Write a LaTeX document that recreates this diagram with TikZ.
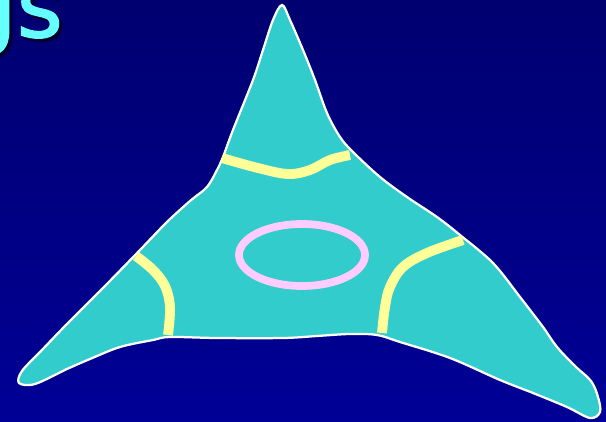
\documentclass[tikz,border=0pt]{standalone}
\usepackage{fontspec}
\setmainfont{DejaVu Sans}
\newfontfamily\titlefont[FakeBold=1.6]{DejaVu Sans}
\definecolor{navytop}{RGB}{0,0,112}
\definecolor{navybot}{RGB}{0,0,150}
\definecolor{cellteal}{RGB}{51,204,204}
\definecolor{lipyellow}{RGB}{255,255,153}
\definecolor{ringpink}{RGB}{255,204,255}
\definecolor{titlecyan}{RGB}{102,255,255}
\definecolor{titleshade}{RGB}{0,0,40}

\begin{document}
\begin{tikzpicture}[x=0.5mm, y=-0.5mm,
  cellbody/.style={draw=white, line width=3.2pt, fill=cellteal},
  lipline/.style={draw=lipyellow, line width=14pt, line cap=butt},
  ringline/.style={draw=ringpink, line width=11pt},
  titletext/.style={font=\titlefont\fontsize{126}{126}\selectfont, inner sep=0pt, anchor=base east}
]
\useasboundingbox (0,0) rectangle (606,422);
\clip (0,0) rectangle (606,422);

% Background
\shade[top color=navytop, bottom color=navybot] (0,0) rectangle (606,422);

% Title (cut off)
\node[titletext, text=titleshade] (titleshadow) at (66,40) {gs};
\node[titletext, text=titlecyan] (title) at (63,37) {gs};

% Cell outline
\draw[cellbody] plot[smooth cycle, tension=0.55] coordinates {
  (282,5) (290,20) (303,50) (315,80) (327,113) (340,137) (353,152)
  (380,177) (407,197) (437,217) (460,235) (493,263) (520,297) (543,327)
  (557,347) (575,366) (591,381) (598,397) (600,412) (590,418) (567,407)
  (533,393) (500,380) (450,358) (400,342) (377,335) (350,334) (317,336)
  (283,338) (217,338) (170,337) (153,340) (120,347) (90,359) (67,369)
  (35,384) (19,383) (22,371) (41,351) (66,325) (103,288) (140,250)
  (167,222) (190,201) (207,187) (217,170) (223,157) (233,130) (253,80)
  (263,50) (273,20)};

% Junction belts
\draw[lipline] plot[smooth, tension=0.6] coordinates {
  (222,158) (258,168) (288,174) (310,170) (330,160) (350,155)};
\draw[lipline] plot[smooth, tension=0.6] coordinates {
  (136,256) (153,270) (165,286) (170,307) (168,335)};
\draw[lipline] plot[smooth, tension=0.6] coordinates {
  (463,240) (427,253) (403,267) (390,287) (385,307) (382,333)};

% Ring
\draw[ringline] (302,255) ellipse [x radius=63, y radius=31];
\end{tikzpicture}
\end{document}
